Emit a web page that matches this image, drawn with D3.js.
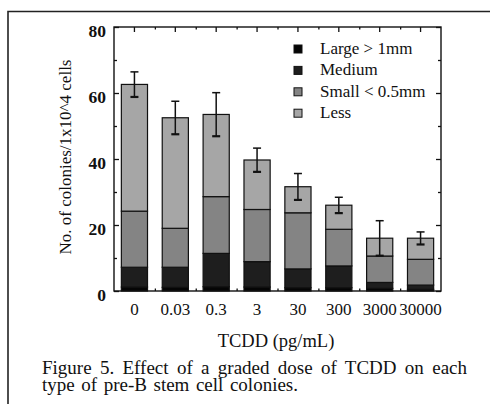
<!DOCTYPE html>
<html>
<head>
<meta charset="utf-8">
<script src="https://cdn.jsdelivr.net/npm/d3@7"></script>
<style>
  body { margin: 0; background: #fff; }
  svg { display: block; font-family: "Liberation Serif", "Times New Roman", serif; }
  .axis path { display: none; }
  .axis line { stroke: #111; stroke-width: 1.3; }
  .axis text { fill: #111; font-family: "Liberation Serif", "Times New Roman", serif; }
</style>
</head>
<body>
<div id="chart"></div>
<script>

// TCDD doses (pg/mL)
var doses = ["0", "0.03", "0.3", "3", "30", "300", "3000", "30000"]

// colony counts per 1x10^4 cells, by colony size
var large  = [1.2, 1.1, 1.3, 1.2, 1.0, 1.0, 0.8, 0.5]
var medium = [6.0, 6.1, 10.1, 7.7, 5.7, 6.6, 1.8, 1.3]
var small  = [17.0, 11.8, 17.2, 15.8, 17.0, 11.1, 8.0, 7.8]
var less   = [38.4, 33.5, 24.9, 15.0, 7.9, 7.3, 5.4, 6.4]
var errors = [3.8, 5.0, 6.6, 3.6, 4.0, 2.4, 5.3, 1.9]

var seriesNames = ["Large > 1mm", "Medium", "Small < 0.5mm", "Less"]
var yTicks = [0, 20, 40, 60, 80]

var W = 490, H = 404
var colors = ["#050505", "#1e1e1e", "#848484", "#a6a6a6"]

var svg = d3.select("#chart").append("svg")
    .attr("width", W)
    .attr("height", H)

// outer figure box (only top and left edge visible)
svg.append("path")
    .attr("d", "M8,404 L8,11.5 L490,11.5")
    .attr("fill", "none")
    .attr("stroke", "#222")
    .attr("stroke-width", 1.6)

var plotL = 114, plotR = 441, plotT = 27, plotB = 291

var x = d3.scaleBand()
    .domain(doses)
    .range([plotL, plotR])
    .paddingInner(0.36)
    .paddingOuter(0.18)

var y = d3.scaleLinear()
    .domain([0, 80])
    .range([plotB, plotT])

var rows = doses.map(function (d, i) {
    return { dose: d, large: large[i], medium: medium[i], small: small[i], less: less[i], err: errors[i] }
})
var keys = ["large", "medium", "small", "less"]
var stacked = d3.stack().keys(keys)(rows)

// bars
svg.append("g").selectAll("g")
    .data(stacked)
    .enter().append("g")
    .attr("fill", function (d, i) { return colors[i] })
    .selectAll("rect")
    .data(function (d) { return d })
    .enter().append("rect")
    .attr("x", function (d) { return x(d.data.dose) })
    .attr("y", function (d) { return y(d[1]) })
    .attr("width", x.bandwidth())
    .attr("height", function (d) { return y(d[0]) - y(d[1]) })
    .attr("stroke", "#111")
    .attr("stroke-width", 1.2)

// error bars
var eb = svg.append("g").attr("stroke", "#111").attr("stroke-width", 1.5)
rows.forEach(function (r) {
    var total = r.large + r.medium + r.small + r.less
    var cx = x(r.dose) + x.bandwidth() / 2
    eb.append("line")
        .attr("x1", cx).attr("x2", cx)
        .attr("y1", y(total + r.err)).attr("y2", y(total - r.err))
    eb.append("line")
        .attr("x1", cx - 4).attr("x2", cx + 4)
        .attr("y1", y(total + r.err)).attr("y2", y(total + r.err))
    eb.append("line")
        .attr("x1", cx - 4).attr("x2", cx + 4)
        .attr("y1", y(total - r.err)).attr("y2", y(total - r.err))
        .attr("stroke-width", 2.2)
})

// frame
svg.append("rect")
    .attr("x", plotL).attr("y", plotT)
    .attr("width", plotR - plotL).attr("height", plotB - plotT)
    .attr("fill", "none")
    .attr("stroke", "#111")
    .attr("stroke-width", 1.4)

var mids = doses.slice(1).map(function (d) { return x(d) - x.step() * x.paddingInner() / 2 })

function axisGroup(tx, ty) {
    return svg.append("g")
        .attr("class", "axis")
        .attr("transform", "translate(" + tx + "," + ty + ")")
}

// left axis
axisGroup(plotL, 0)
    .call(d3.axisLeft(y).tickValues([10, 30, 50, 70]).tickSize(-3).tickFormat(""))
axisGroup(plotL, 0)
    .call(d3.axisLeft(y).tickValues(yTicks).tickSize(-5).tickPadding(8))
    .selectAll("text")
    .attr("dy", "0.52em")
    .style("font-size", "17.5px")
    .style("font-weight", "bold")

// right axis
axisGroup(plotR, 0)
    .call(d3.axisRight(y).tickValues([10, 30, 50, 70]).tickSize(-3).tickFormat(""))
axisGroup(plotR, 0)
    .call(d3.axisRight(y).tickValues(yTicks).tickSize(-5).tickFormat(""))

// top axis
axisGroup(0, plotT)
    .call(d3.axisTop(x).tickSize(-5).tickFormat(""))
axisGroup(0, plotT)
    .call(d3.axisTop(d3.scaleIdentity()).tickValues(mids).tickSize(-2.5).tickFormat(""))

// bottom axis
axisGroup(0, plotB)
    .call(d3.axisBottom(d3.scaleIdentity()).tickValues(mids).tickSize(-2.5).tickFormat(""))
axisGroup(0, plotB)
    .call(d3.axisBottom(x).tickSize(0).tickPadding(12))
    .selectAll("text")
    .style("font-size", "17px")

// axis titles
svg.append("text")
    .attr("transform", "translate(71,157) rotate(-90)")
    .attr("text-anchor", "middle")
    .style("font-size", "17px")
    .attr("fill", "#111")
    .text("No. of colonies/1x10^4 cells")

svg.append("text")
    .attr("x", 276).attr("y", 347)
    .attr("text-anchor", "middle")
    .style("font-size", "18.5px")
    .attr("fill", "#111")
    .text("TCDD (pg/mL)")

// legend
var legend = svg.append("g")
legend.selectAll("rect")
    .data(seriesNames)
    .enter().append("rect")
    .attr("x", 294).attr("y", function (d, i) { return 45 + i * 21.4 })
    .attr("width", 8).attr("height", 8)
    .attr("fill", function (d, i) { return colors[i] })
    .attr("stroke", "#111").attr("stroke-width", 1)
legend.selectAll("text")
    .data(seriesNames)
    .enter().append("text")
    .attr("x", 320).attr("y", function (d, i) { return 54 + i * 21.4 })
    .style("font-size", "17px")
    .attr("fill", "#111")
    .text(function (d) { return d })

// caption, lines stretched to the measured line widths
var captionLines = ["Figure 5. Effect of a graded dose of TCDD on each", "type of pre-B stem cell colonies."]
var captionWidths = [425, 256]
captionLines.forEach(function (line, i) {
    var t = svg.append("text")
        .attr("x", 42).attr("y", 374 + i * 17)
        .style("font-size", "19px")
        .attr("fill", "#111")
        .text(line)
    var len = t.node().getComputedTextLength()
    var gaps = line.split(" ").length - 1
    t.style("word-spacing", ((captionWidths[i] - len) / gaps) + "px")
})

</script>
</body>
</html>
